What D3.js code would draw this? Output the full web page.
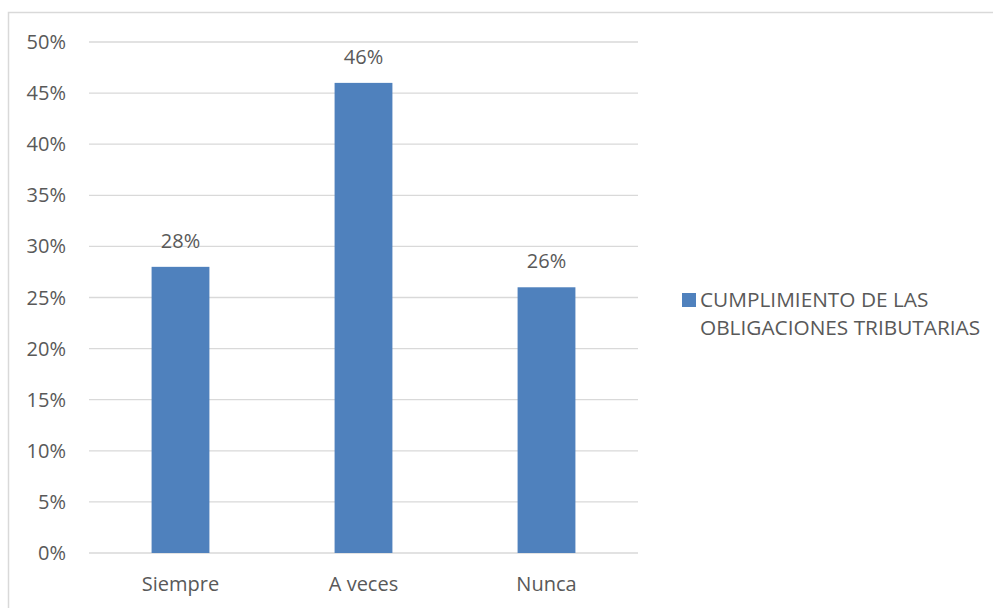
<!DOCTYPE html>
<html>
<head>
<meta charset="utf-8">
<script src="https://cdn.jsdelivr.net/npm/d3@7"></script>
<style>
  body { margin: 0; background: #fff; }
  svg text { font-family: "Open Sans", "Liberation Sans", sans-serif; fill: #595959; }
</style>
</head>
<body>
<script>
// categories and values
let categories = ['Siempre', 'A veces', 'Nunca'];
let values = [0.28, 0.46, 0.26];
let yTicks = [0, 0.05, 0.10, 0.15, 0.20, 0.25, 0.30, 0.35, 0.40, 0.45, 0.50];
let seriesName = ['CUMPLIMIENTO DE LAS', 'OBLIGACIONES TRIBUTARIAS'];

let width = 993, height = 608;
// plot area edges
let plotLeft = 89, plotRight = 638, plotTop = 42, plotBottom = 553;
let barColor = '#4f81bd';
let fontSize = '20px';

let svg = d3.select('body').append('svg')
    .attr('width', width)
    .attr('height', height);

// outer chart border (runs off right and bottom edges)
svg.append('rect')
    .attr('x', 8.5).attr('y', 12.5)
    .attr('width', width).attr('height', height)
    .style('fill', 'none')
    .style('stroke', '#d9d9d9')
    .style('stroke-width', 1.5);

let x = d3.scaleBand()
    .domain(categories)
    .range([plotLeft, plotRight])
    .paddingInner(0.684)
    .paddingOuter(0.342);

let y = d3.scaleLinear()
    .domain([0, 0.5])
    .range([plotBottom, plotTop]);

// gridlines
svg.selectAll('.grid')
    .data(yTicks)
    .join('line')
        .attr('class', 'grid')
        .attr('x1', plotLeft).attr('x2', plotRight)
        .attr('y1', d => y(d)).attr('y2', d => y(d))
        .style('stroke', '#d9d9d9')
        .style('stroke-width', 1.3);

// y axis labels
svg.selectAll('.ytick')
    .data(yTicks)
    .join('text')
        .attr('class', 'ytick')
        .attr('x', 66)
        .attr('y', d => y(d))
        .attr('dy', '0.35em')
        .attr('text-anchor', 'end')
        .style('font-size', fontSize)
        .text(d => d3.format('.0%')(d));

// bars
svg.selectAll('.bar')
    .data(values)
    .join('rect')
        .attr('class', 'bar')
        .attr('x', (d, i) => x(categories[i]))
        .attr('width', x.bandwidth())
        .attr('y', d => y(d))
        .attr('height', d => y(0) - y(d))
        .style('fill', barColor);

// data labels
svg.selectAll('.dlabel')
    .data(values)
    .join('text')
        .attr('class', 'dlabel')
        .attr('x', (d, i) => x(categories[i]) + x.bandwidth() / 2)
        .attr('y', d => y(d) - 19)
        .attr('text-anchor', 'middle')
        .style('font-size', fontSize)
        .text(d => d3.format('.0%')(d));

// category labels
svg.selectAll('.xlabel')
    .data(categories)
    .join('text')
        .attr('class', 'xlabel')
        .attr('x', d => x(d) + x.bandwidth() / 2)
        .attr('y', 591)
        .attr('text-anchor', 'middle')
        .style('font-size', fontSize)
        .text(d => d);

// legend
svg.append('rect')
    .attr('x', 682).attr('y', 293)
    .attr('width', 14).attr('height', 14)
    .style('fill', barColor);

svg.selectAll('.legend')
    .data(seriesName)
    .join('text')
        .attr('class', 'legend')
        .attr('x', 700)
        .attr('y', (d, i) => 307 + i * 28)
        .style('font-size', '20.8px')
        .text(d => d);
</script>
</body>
</html>
